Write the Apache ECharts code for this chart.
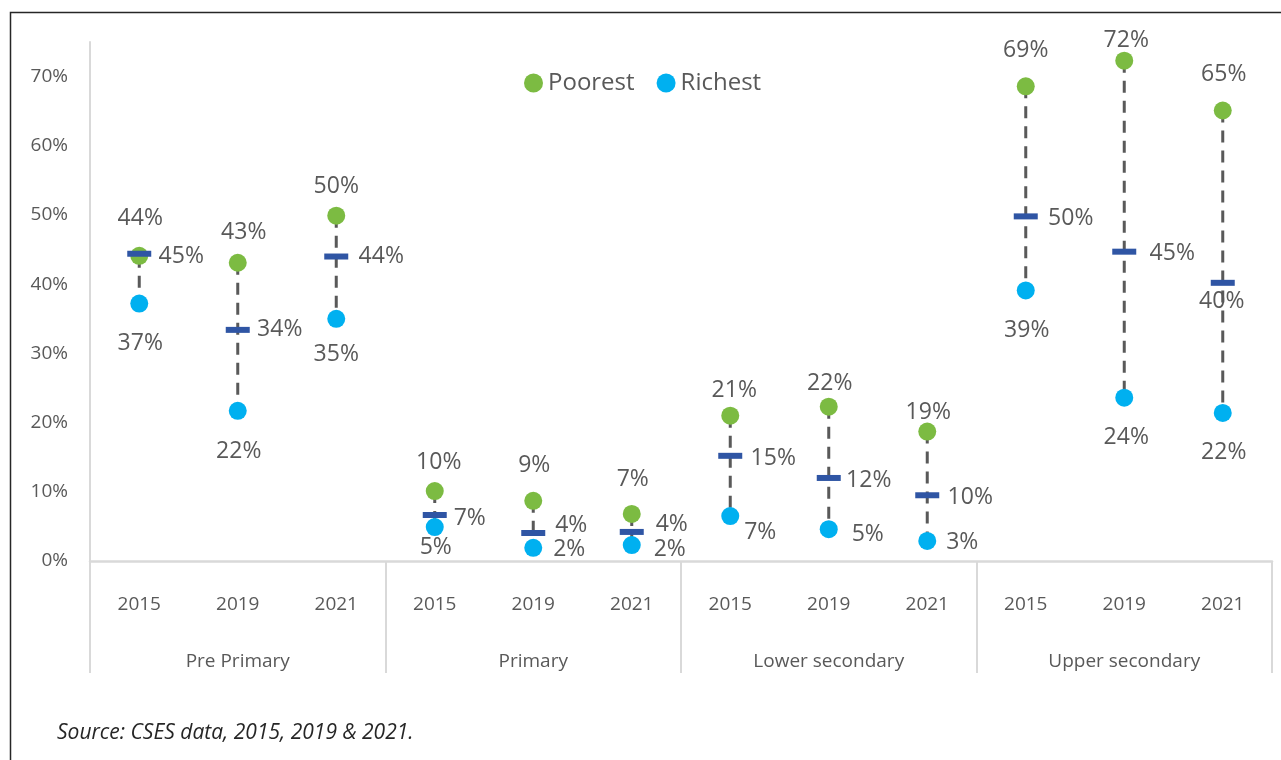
<!DOCTYPE html>
<html>
<head>
<meta charset="utf-8">
<script src="https://cdn.jsdelivr.net/npm/echarts@6/dist/echarts.min.js"></script>
<style>
html,body{margin:0;padding:0;background:#fff;}
#chart{width:1281px;height:760px;}
</style>
</head>
<body>
<div id="chart"></div>
<script>
// 年份 / 学段
var years = ['2015','2019','2021','2015','2019','2021','2015','2019','2021','2015','2019','2021'];
var levels = ['Pre Primary','Primary','Lower secondary','Upper secondary'];

// values in %
var poorest = [44.1, 43.1, 49.9, 10.1, 8.7, 6.8, 21.0, 22.3, 18.7, 68.6, 72.3, 65.1];
var richest = [37.2, 21.7, 35.0, 4.9, 1.9, 2.3, 6.5, 4.6, 2.9, 39.1, 23.6, 21.4];
var average = [44.4, 33.4, 44.0, 6.65, 4.05, 4.2, 15.2, 12.0, 9.5, 49.8, 44.7, 40.2];

// printed labels
var poorestText = ['44%','43%','50%','10%','9%','7%','21%','22%','19%','69%','72%','65%'];
var richestText = ['37%','22%','35%','5%','2%','2%','7%','5%','3%','39%','24%','22%'];
var averageText = ['45%','34%','44%','7%','4%','4%','15%','12%','10%','50%','45%','40%'];

// label placement tweaks (offset from the mark)
var poorOff = [[1,-37],[6,-30],[0,-29],[4,-29],[1,-35],[1,-34],[4,-25],[1,-23],[1,-19],[0,-36],[2,-20],[1,-36]];
var richOff = [[1,40],[1,41],[0,36],[1,20],[36,2],[38,4],[30,16],[39,5],[35,2],[1,40],[2,40],[1,40]];
var avgOff = [[42,3],[42,0],[45,0],[35,3],[38,-8],[40,-7],[43,3],[40,2],[43,2],[45,2],[48,2],[-1,19]];

var FONT = '"Open Sans", "DejaVu Sans", sans-serif';
var GREY = '#595959';

function withLabels(vals, texts, offs){
    var out = [];
    for (var i = 0; i < vals.length; i++) {
        out.push({
            value: [i, vals[i]],
            label: { formatter: texts[i], offset: offs[i] }
        });
    }
    return out;
}

var lineData = [];
for (var i = 0; i < years.length; i++) {
    lineData.push([i, poorest[i], richest[i]]);
}

var labelBase = {
    show: true,
    position: 'inside',
    color: GREY,
    opacity: 1,
    fontSize: 23,
    fontFamily: FONT
};

var myChart = echarts.init(document.getElementById('chart'));
var option = {
    animation: false,
    backgroundColor: '#fff',
    textStyle: { fontFamily: FONT },
    graphic: [
        {
            type: 'rect',
            left: 8, top: 10,
            shape: { width: 1400, height: 900 },
            style: { fill: 'none', stroke: '#262626', lineWidth: 1.5 },
            silent: true
        },
        {
            type: 'text',
            left: 57, top: 723,
            style: {
                text: 'Source: CSES data, 2015, 2019 & 2021.',
                font: 'italic 21px ' + FONT,
                fill: '#262626'
            }
        }
    ],
    legend: {
        data: ['Poorest', 'Richest'],
        left: 519,
        top: 66,
        icon: 'circle',
        itemWidth: 19,
        itemHeight: 19,
        itemGap: 22,
        textStyle: { color: GREY, fontSize: 24, fontFamily: FONT }
    },
    grid: {
        left: 90,
        right: 9,
        top: 42,
        bottom: 199,
        containLabel: false
    },
    xAxis: [
        {
            type: 'category',
            data: years,
            boundaryGap: true,
            axisLine: { lineStyle: { color: '#d9d9d9', width: 2.5 } },
            axisTick: { show: false },
            axisLabel: { color: GREY, fontSize: 19, fontFamily: FONT, margin: 34 }
        },
        {
            type: 'category',
            data: levels,
            position: 'bottom',
            boundaryGap: true,
            axisLine: { show: false },
            axisTick: { show: true, length: 112, lineStyle: { color: '#d9d9d9', width: 2 } },
            axisLabel: { color: GREY, fontSize: 19, fontFamily: FONT, margin: 91 }
        }
    ],
    yAxis: {
        type: 'value',
        min: 0,
        max: 75,
        interval: 10,
        splitLine: { show: false },
        axisTick: { show: false },
        axisLine: { show: true, lineStyle: { color: '#d9d9d9', width: 2 } },
        axisLabel: {
            color: GREY,
            fontSize: 19,
            fontFamily: FONT,
            margin: 22,
            formatter: function (v) {
                return v % 10 === 0 ? v + '%' : '';
            }
        }
    },
    series: [
        {
            type: 'custom',
            name: 'gap',
            xAxisIndex: 0,
            z: 1,
            data: lineData,
            encode: { x: 0, y: [1, 2] },
            renderItem: function (params, api) {
                var a = api.coord([api.value(0), api.value(1)]);
                var b = api.coord([api.value(0), api.value(2)]);
                return {
                    type: 'line',
                    shape: { x1: a[0], y1: a[1], x2: b[0], y2: b[1] },
                    style: { stroke: GREY, lineWidth: 3, lineDash: [12, 8] }
                };
            }
        },
        {
            type: 'scatter',
            name: 'Poorest',
            xAxisIndex: 0,
            z: 2,
            symbol: 'circle',
            symbolSize: 18,
            itemStyle: { color: '#7cbb42', opacity: 1 },
            label: labelBase,
            data: withLabels(poorest, poorestText, poorOff)
        },
        {
            type: 'scatter',
            name: 'Richest',
            xAxisIndex: 0,
            z: 2,
            symbol: 'circle',
            symbolSize: 18,
            itemStyle: { color: '#00b0f0', opacity: 1 },
            label: labelBase,
            data: withLabels(richest, richestText, richOff)
        },
        {
            type: 'scatter',
            name: 'Average',
            xAxisIndex: 0,
            z: 3,
            symbol: 'rect',
            symbolSize: [24, 6],
            itemStyle: { color: '#2f55a4', opacity: 1 },
            label: labelBase,
            data: withLabels(average, averageText, avgOff)
        }
    ]
};
myChart.setOption(option);
</script>
</body>
</html>
